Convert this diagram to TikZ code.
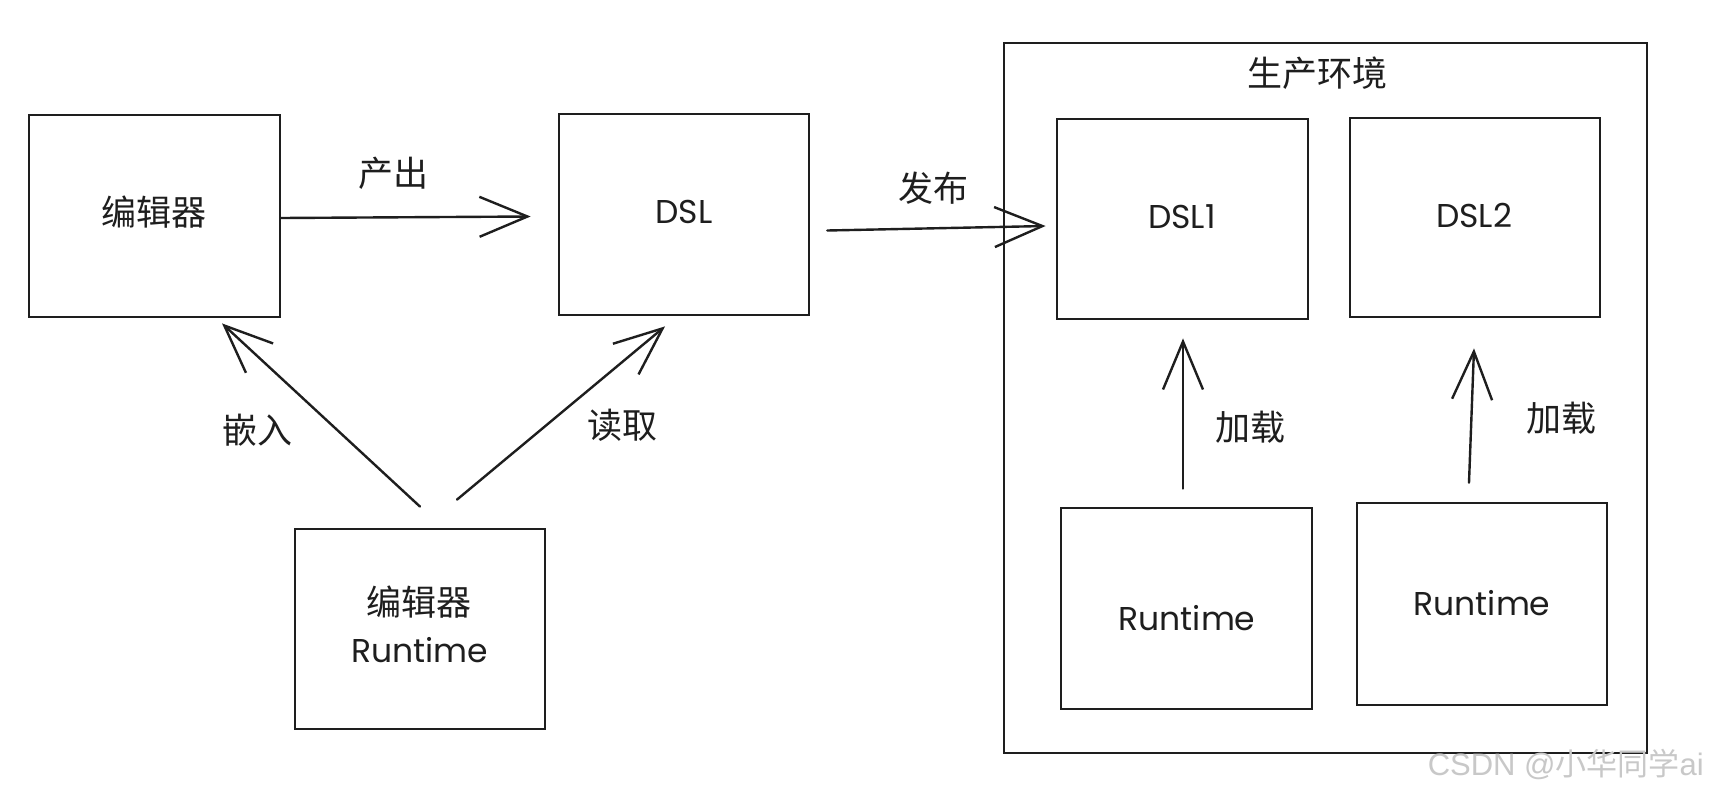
\documentclass[tikz,border=0pt]{standalone}
\usepackage{fontspec}
\setmainfont{Noto Sans CJK SC}
\newfontfamily\cjk{Noto Sans CJK SC}
\newfontfamily\hand{Poppins}
\newfontfamily\arialf{Liberation Sans}
\usetikzlibrary{arrows.meta,calc}
\definecolor{ink}{HTML}{1E1E1E}
\definecolor{wm}{HTML}{C8C8C8}
\begin{document}
\begin{tikzpicture}[x=1pt,y=-1pt,
  box/.style={draw=ink, line width=2.8pt, rectangle, inner sep=0pt,
    minimum width=250pt, minimum height=200pt},
  cjklab/.style={text=ink, inner sep=0pt, font=\cjk\fontsize{35}{42}\selectfont},
  handlab/.style={text=ink, inner sep=0pt, font=\hand\fontsize{33}{40}\selectfont},
  arr/.style={draw=ink, line width=2.4pt, line cap=round,
    -{Straight Barb[length=48pt,width=40pt,line width=2.4pt]}}]
\useasboundingbox (0,0) rectangle (1709,795);
\fill[white] (0,0) rectangle (1709,795);

% left part
\node[box, minimum width=251pt, minimum height=202pt] (ed) at (154.5,216) {};
\node[box, minimum height=201pt] (dsl) at (684,214.5) {};
\node[box] (edrt) at (420,629) {};
\node[cjklab] (edt) at (154,212) {编辑器};
\node[handlab] (dslt) at (684,212) {DSL};
\node[cjklab] (edrtt1) at (419,602) {编辑器};
\node[handlab] (edrtt2) at (420,650) {Runtime};

% production environment
\node[box, minimum width=643pt, minimum height=710pt] (prod) at (1325.5,398) {};
\node[cjklab] (prodt) at (1317,73) {生产环境};
\node[box, minimum width=251pt] (dsl1) at (1182.5,219) {};
\node[box, minimum height=199pt] (dsl2) at (1475,217.5) {};
\node[box, minimum width=251pt, minimum height=201pt] (rt1) at (1186.5,608.5) {};
\node[box, minimum height=202pt] (rt2) at (1482,604) {};
\node[handlab] (dsl1t) at (1182,217) {DSL1};
\node[handlab] (dsl2t) at (1474,215) {DSL2};
\node[handlab] (rt1t) at (1187,618) {Runtime};
\node[handlab] (rt2t) at (1482,603) {Runtime};

% connectors
\draw[arr] ([yshift=-2pt]ed.east) -- ([xshift=-27pt,yshift=-2pt]dsl.west);
\draw[arr] ([xshift=17pt,yshift=-16pt]dsl.east) -- ([xshift=-10pt,yshift=-7pt]dsl1.west);
\draw[arr] ([yshift=21pt]edrt.north) -- ([xshift=67.5pt,yshift=-5pt]ed.south);
\draw[arr] ([xshift=37pt,yshift=28pt]edrt.north) -- ([xshift=-19pt,yshift=-10pt]dsl.south);
\draw[arr] ([xshift=-3.5pt,yshift=18pt]rt1.north) -- ([xshift=0.5pt,yshift=-18pt]dsl1.south);
\draw[arr] ([xshift=-13pt,yshift=19pt]rt2.north) -- ([xshift=-1pt,yshift=-30pt]dsl2.south);

% labels
\node[cjklab] (l1) at (393,173) {产出};
\node[cjklab] (l2) at (933,188) {发布};
\node[cjklab] (l3) at (257,430) {嵌入};
\node[cjklab] (l4) at (622,425) {读取};
\node[cjklab] (l5) at (1250,427) {加载};
\node[cjklab] (l6) at (1561,418) {加载};

% watermark
\node[text=wm, inner sep=0pt, anchor=east] (wmk) at (1704,764)
  {\fontsize{31}{36}\selectfont\arialf CSDN @\cjk 小华同学\arialf ai};
\end{tikzpicture}
\end{document}
